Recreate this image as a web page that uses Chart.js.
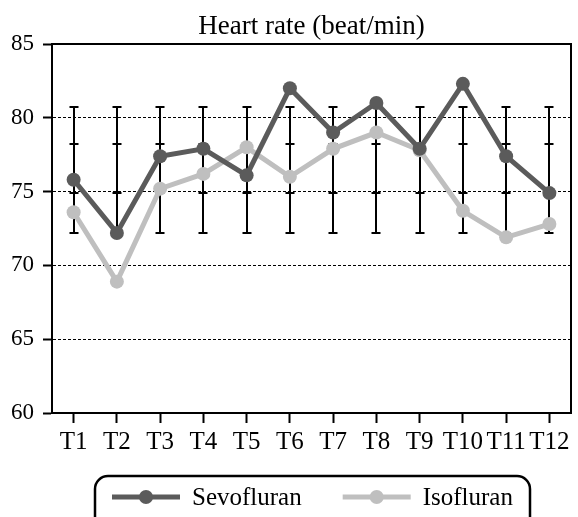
<!DOCTYPE html>
<html>
<head>
<meta charset="utf-8">
<script src="https://cdn.jsdelivr.net/npm/chart.js@4/dist/chart.umd.min.js"></script>
<style>
  html, body { margin: 0; padding: 0; background: #fff; }
  #wrap { width: 578px; height: 517px; }
</style>
</head>
<body>
<div id="wrap"><canvas id="hrChart" width="578" height="517"></canvas></div>
<script>
// data
const timePoints = ['T1', 'T2', 'T3', 'T4', 'T5', 'T6', 'T7', 'T8', 'T9', 'T10', 'T11', 'T12'];
const sevofluran = [75.8, 72.2, 77.4, 77.9, 76.1, 82.0, 79.0, 81.0, 77.9, 82.3, 77.4, 74.9];
const isofluran = [73.6, 68.9, 75.2, 76.2, 78.0, 76.0, 77.9, 79.0, 77.8, 73.7, 71.9, 72.8];
// error bars (same at every time point in the figure)
const errHighA = [80.7, 80.7, 80.7, 80.7, 80.7, 80.7, 80.7, 80.7, 80.7, 80.7, 80.7, 80.7];
const errLowA = [74.9, 74.9, 74.9, 74.9, 74.9, 74.9, 74.9, 74.9, 74.9, 74.9, 74.9, 74.9];
const errHighB = [78.2, 78.2, 78.2, 78.2, 78.2, 78.2, 78.2, 78.2, 78.2, 78.2, 78.2, 78.2];
const errLowB = [72.2, 72.2, 72.2, 72.2, 72.2, 72.2, 72.2, 72.2, 72.2, 72.2, 72.2, 72.2];
const yTicks = [60, 65, 70, 75, 80, 85];

const FONT = '"Liberation Serif", "Times New Roman", serif';
const DARK = '#5b5b5b';
const LIGHT = '#bfbfbf';

// draws error bars under the lines
const errorBars = {
    id: 'errorBars',
    beforeDatasetsDraw(chart) {
        const ctx = chart.ctx;
        const x = chart.scales.x, y = chart.scales.y;
        ctx.save();
        ctx.strokeStyle = '#000';
        ctx.lineWidth = 2;
        timePoints.forEach((t, i) => {
            const px = Math.round(x.getPixelForValue(i));
            const top = Math.min(y.getPixelForValue(errHighA[i]), y.getPixelForValue(errHighB[i]));
            const bot = Math.max(y.getPixelForValue(errLowA[i]), y.getPixelForValue(errLowB[i]));
            ctx.beginPath();
            ctx.moveTo(px, top);
            ctx.lineTo(px, bot);
            [errHighA[i], errLowA[i], errHighB[i], errLowB[i]].forEach(v => {
                const py = Math.round(y.getPixelForValue(v));
                ctx.moveTo(px - 4.5, py);
                ctx.lineTo(px + 4.5, py);
            });
            ctx.stroke();
        });
        ctx.restore();
    }
};

// title, frame and boxed legend
const frameAndLegend = {
    id: 'frameAndLegend',
    afterDraw(chart) {
        const ctx = chart.ctx;
        const a = chart.chartArea;
        ctx.save();

        // top and right border of the plot
        ctx.strokeStyle = '#000';
        ctx.lineWidth = 2;
        ctx.beginPath();
        ctx.moveTo(a.left, a.top);
        ctx.lineTo(a.right, a.top);
        ctx.lineTo(a.right, a.bottom);
        ctx.stroke();

        // title
        ctx.fillStyle = '#000';
        ctx.font = '27px ' + FONT;
        ctx.textAlign = 'center';
        ctx.textBaseline = 'alphabetic';
        ctx.fillText('Heart rate (beat/min)', (a.left + a.right) / 2, 34);

        // legend box
        const bx = 95, by = 476, bw = 435, bh = 60, r = 13;
        ctx.lineWidth = 2.5;
        ctx.beginPath();
        ctx.moveTo(bx + r, by);
        ctx.lineTo(bx + bw - r, by);
        ctx.arcTo(bx + bw, by, bx + bw, by + r, r);
        ctx.lineTo(bx + bw, by + bh - r);
        ctx.arcTo(bx + bw, by + bh, bx + bw - r, by + bh, r);
        ctx.lineTo(bx + r, by + bh);
        ctx.arcTo(bx, by + bh, bx, by + bh - r, r);
        ctx.lineTo(bx, by + r);
        ctx.arcTo(bx, by, bx + r, by, r);
        ctx.stroke();

        // legend items
        ctx.font = '25px ' + FONT;
        ctx.textAlign = 'left';
        ctx.textBaseline = 'middle';
        let lx = 112;
        const ly = 497;
        chart.data.datasets.forEach(ds => {
            ctx.strokeStyle = ds.borderColor;
            ctx.lineWidth = 5;
            ctx.beginPath();
            ctx.moveTo(lx, ly);
            ctx.lineTo(lx + 68, ly);
            ctx.stroke();
            ctx.fillStyle = ds.pointBackgroundColor;
            ctx.beginPath();
            ctx.arc(lx + 34, ly, 7, 0, Math.PI * 2);
            ctx.fill();
            ctx.fillStyle = '#000';
            ctx.fillText(ds.label, lx + 80, ly + 1);
            lx += 80 + ctx.measureText(ds.label).width + 41;
        });
        ctx.restore();
    }
};

const ctx = document.getElementById('hrChart').getContext('2d');
const hrChart = new Chart(ctx, {
    type: 'line',
    data: {
        labels: timePoints,
        datasets: [
            {
                label: 'Sevofluran',
                data: sevofluran,
                borderColor: DARK,
                backgroundColor: DARK,
                pointBackgroundColor: DARK,
                pointBorderColor: DARK,
                borderWidth: 5,
                pointRadius: 7,
                pointBorderWidth: 0,
                tension: 0
            },
            {
                label: 'Isofluran',
                data: isofluran,
                borderColor: LIGHT,
                backgroundColor: LIGHT,
                pointBackgroundColor: LIGHT,
                pointBorderColor: LIGHT,
                borderWidth: 5,
                pointRadius: 7,
                pointBorderWidth: 0,
                tension: 0
            }
        ]
    },
    options: {
        responsive: false,
        animation: false,
        events: [],
        layout: { padding: { top: 44, right: 3, bottom: 0, left: 0 } },
        plugins: {
            legend: { display: false },
            title: { display: false },
            tooltip: { enabled: false }
        },
        scales: {
            x: {
                offset: true,
                grid: {
                    drawOnChartArea: false,
                    offset: false,
                    tickLength: 10,
                    tickColor: '#000',
                    tickWidth: 2
                },
                border: { color: '#000', width: 2 },
                ticks: {
                    color: '#000',
                    font: { family: FONT, size: 25 },
                    padding: 4,
                    maxRotation: 0,
                    autoSkip: false
                },
                afterFit(scale) { scale.height = 104; }
            },
            y: {
                min: 60,
                max: 85,
                afterBuildTicks(scale) { scale.ticks = yTicks.map(v => ({ value: v })); },
                grid: {
                    color: c => (c.tick && (c.tick.value === 60 || c.tick.value === 85)) ? 'rgba(0,0,0,0)' : '#000',
                    lineWidth: 1,
                    tickLength: 9,
                    tickColor: '#000',
                    tickWidth: 2
                },
                border: { color: '#000', width: 2, dash: [3, 2] },
                ticks: {
                    color: '#000',
                    font: { family: FONT, size: 23 },
                    padding: 9
                },
                afterFit(scale) { scale.width = 52; }
            }
        }
    },
    plugins: [errorBars, frameAndLegend]
});
</script>
</body>
</html>
